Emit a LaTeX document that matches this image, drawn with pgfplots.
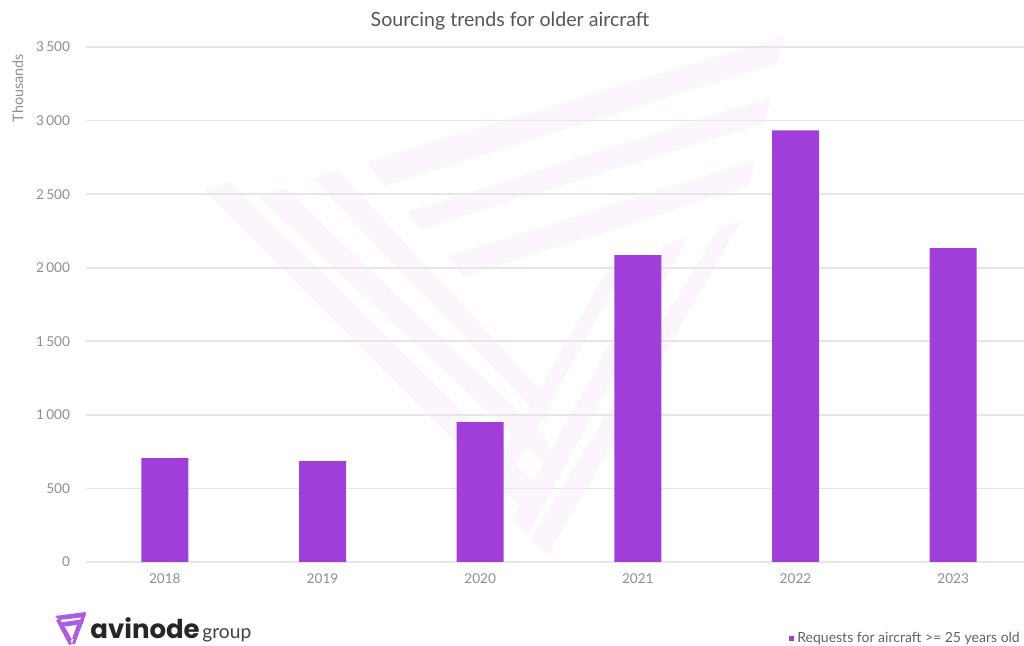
\documentclass[border=0pt]{standalone}
\usepackage{fontspec}
\setmainfont{Lato}
\newfontfamily\logofont{Poppins}
\usepackage{pgfplots}
\pgfplotsset{compat=1.18}
\definecolor{barc}{HTML}{A13ED9}
\definecolor{wm}{HTML}{FCF5FE}
\definecolor{gridc}{HTML}{E6E6E6}
\definecolor{tickc}{HTML}{8E8E8E}
\definecolor{titlec}{HTML}{555555}
\begin{document}
\begin{tikzpicture}
% bounding box 1024x646 px at 0.5pt per px
\useasboundingbox (0,0) rectangle (512pt,323pt);
% watermark (coordinates in px, y downwards)
\begin{scope}[x=0.5pt,y=-0.5pt,shift={(0pt,323pt)}]
 \fill[wm] (204,190) -- (230,182) -- (540,488) -- (540,512) -- (525,512) -- cycle;
 \fill[wm] (257,196) -- (285,188) -- (548,440) -- (548,468) -- cycle;
 \fill[wm] (312,178) -- (338,170) -- (548,398) -- (548,425) -- cycle;
 \fill[wm] (366,162) -- (785,36) -- (777,63) -- (385,186) -- cycle;
 \fill[wm] (407,212) -- (771,97) -- (765,123) -- (421,229) -- cycle;
 \fill[wm] (447,257) -- (755,160) -- (749,186) -- (463,277) -- cycle;
 \fill[wm] (741,222) -- (720,226) -- (530,540) -- (548,555) -- cycle;
 \fill[wm] (688,237) -- (664,245) -- (512,520) -- (528,536) -- cycle;
 \fill[wm] (633,253) -- (611,263) -- (505,450) -- (515,468) -- cycle;
\end{scope}
\begin{axis}[
  at={(43pt,42pt)}, anchor=south west,
  scale only axis, width=473pt, height=257.5pt,
  xmin=-0.5, xmax=5.5, ymin=0, ymax=3500,
  axis line style={draw=none},
  ybar, bar width=23.5pt,
  ytick={0,500,...,3500},
  xtick=data,
  xticklabels={2018,2019,2020,2021,2022,2023},
  ymajorgrids, grid style={gridc, line width=0.8pt},
  major tick length=0pt,
  ticklabel style={font=\fontsize{6.8}{8}\selectfont, text=tickc},
  /pgf/number format/assume math mode=true,
  /pgf/number format/1000 sep={\,},
  yticklabel style={xshift=-4.5pt},
  xticklabel style={yshift=-2.5pt},
  clip=false,
]
\addplot[fill=barc, draw=none] coordinates {(0,706) (1,686) (2,951) (3,2086) (4,2933) (5,2133)};
\end{axis}
% title
\node[text=titlec, font=\fontsize{9.8}{11}\selectfont] at (255pt,312.5pt) {Sourcing trends for older aircraft};
% y label
\node[text=tickc, rotate=90, font=\fontsize{7.2}{8}\selectfont] at (9pt,279pt) {Thousands};
% legend
\fill[barc] (394.3pt,2.4pt) rectangle (397.1pt,5.2pt);
\node[anchor=west, text=black!62, font=\fontsize{7}{8}\selectfont, inner sep=0pt] at (398.5pt,3.9pt) {Requests for aircraft >= 25 years old};
% logo
\begin{scope}[x=0.5pt,y=-0.5pt,shift={(0pt,323pt)}]
 \fill[barc!85!white] (55,616) -- (86,612) -- (85,617) -- (59,620) -- cycle;
 \fill[barc!85!white] (58,623) -- (84,619) -- (83,624) -- (62,627) -- cycle;
 \fill[barc!85!white] (56,620) -- (60,619) -- (72,644) -- (69,645) -- cycle;
 \fill[barc!85!white] (62,628) -- (65,627) -- (72,640) -- (70,641) -- cycle;
 \fill[barc!85!white] (86,614) -- (82,615) -- (72,644) -- (75,644) -- cycle;
 \fill[barc!85!white] (80,624) -- (77,625) -- (72,639) -- (74,639) -- cycle;
\end{scope}
\node[anchor=base west, inner sep=0pt, text=black!85, font=\logofont\bfseries\fontsize{13}{14}\selectfont] at (45pt,3.6pt) {avinode};
\node[anchor=base west, inner sep=0pt, text=black!75, font=\fontsize{9.6}{11}\selectfont] at (101pt,3.6pt) {group};
\end{tikzpicture}
\end{document}
